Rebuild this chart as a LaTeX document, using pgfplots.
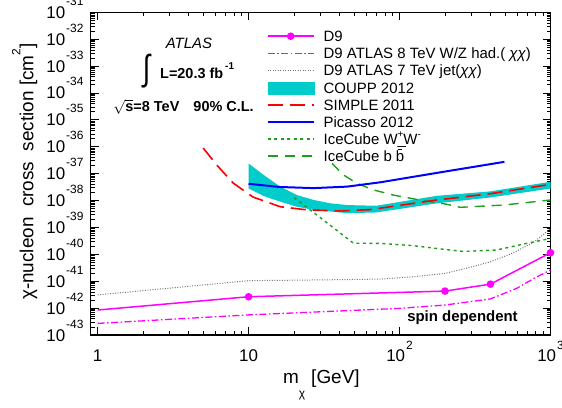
\documentclass[border=0pt]{standalone}
\usepackage{fontspec}
\setmainfont{Liberation Sans}
\usepackage{pgfplots}
\pgfplotsset{compat=1.18}
\definecolor{mag}{RGB}{255,0,255}
\definecolor{bandc}{RGB}{0,204,204}
\definecolor{grn}{RGB}{30,160,30}
\definecolor{dgray}{RGB}{120,120,120}
\newcommand{\tp}[1]{10\hspace{1bp}\raisebox{13bp}{\fontsize{12}{12}\selectfont #1}}
\newcommand{\xp}[1]{10\hspace{1bp}\raisebox{12bp}{\fontsize{12}{12}\selectfont #1}}
\newcommand{\chichi}{{\itshape χχ}}
\begin{document}%
\sbox0{\fontsize{15}{17}\selectfont \chichi\ $\chi\overline{\mbox{b}}$ \={b} {\bfseries x} {\itshape A}}%
\begin{tikzpicture}
\useasboundingbox (-90.7bp,-73bp) rectangle (471.3bp,335bp);
\begin{scope}[shift={(-90.7bp,335bp)}, x=1bp, y=-1bp]
\node[anchor=base, inner sep=0pt, font=\itshape\fontsize{15}{15}\selectfont] at (189,48.3) {ATLAS};
\node[anchor=center, inner sep=0pt] at (146.5,71.5) {\scalebox{0.75}[1]{\fontsize{36}{36}\selectfont ∫}};
\node[anchor=base west, inner sep=0pt, font=\bfseries\fontsize{14.5}{14.5}\selectfont] at (160,78.3) {L=20.3 fb\hspace{2bp}\raisebox{9bp}{\fontsize{10}{10}\selectfont -1}};
\node[anchor=base west, inner sep=0pt, font=\bfseries\fontsize{14.5}{14.5}\selectfont] at (113.3,111.7) {$\sqrt{\hbox{s}}$=8 TeV};
\node[anchor=base west, inner sep=0pt, font=\bfseries\fontsize{14.5}{14.5}\selectfont] at (193.3,111.7) {90\% C.L.};
\node[anchor=base, inner sep=0pt, font=\bfseries\fontsize{15}{15}\selectfont] at (462.5,322) {spin dependent};
\node[anchor=base west, inner sep=0pt, font=\fontsize{19}{19}\selectfont] at (283,384) {m\raisebox{-13.7bp}{\fontsize{12}{12}\selectfont χ}\hspace{6bp}[GeV]};
\node[rotate=90, anchor=base, inner sep=0pt, font=\fontsize{19}{19}\selectfont] at (33.3,171.7) {χ-nucleon\ \ cross\ \ section [cm\raisebox{13bp}{\fontsize{12}{12}\selectfont 2}]};
\end{scope}
\begin{axis}[
  at={(0,0)}, anchor=south west,
  scale only axis, width=459.8bp, height=322.7bp,
  xmode=log, ymode=log,
  xmin=0.9, xmax=1000, ymin=1e-43, ymax=1e-31,
  xtick={1,10,100,1000},
  xticklabels={1,10,\xp{2},\xp{3}},
  minor xtick={2,3,4,5,6,7,8,9,20,30,40,50,60,70,80,90,200,300,400,500,600,700,800,900},
  ytick={1e-43,1e-42,1e-41,1e-40,1e-39,1e-38,1e-37,1e-36,1e-35,1e-34,1e-33,1e-32,1e-31},
  yticklabels={\tp{-43},\tp{-42},\tp{-41},\tp{-40},\tp{-39},\tp{-38},\tp{-37},\tp{-36},\tp{-35},\tp{-34},\tp{-33},\tp{-32},\tp{-31}},
  minor ytick={2e-43,3e-43,4e-43,5e-43,6e-43,7e-43,8e-43,9e-43,
    2e-42,3e-42,4e-42,5e-42,6e-42,7e-42,8e-42,9e-42,
    2e-41,3e-41,4e-41,5e-41,6e-41,7e-41,8e-41,9e-41,
    2e-40,3e-40,4e-40,5e-40,6e-40,7e-40,8e-40,9e-40,
    2e-39,3e-39,4e-39,5e-39,6e-39,7e-39,8e-39,9e-39,
    2e-38,3e-38,4e-38,5e-38,6e-38,7e-38,8e-38,9e-38,
    2e-37,3e-37,4e-37,5e-37,6e-37,7e-37,8e-37,9e-37,
    2e-36,3e-36,4e-36,5e-36,6e-36,7e-36,8e-36,9e-36,
    2e-35,3e-35,4e-35,5e-35,6e-35,7e-35,8e-35,9e-35,
    2e-34,3e-34,4e-34,5e-34,6e-34,7e-34,8e-34,9e-34,
    2e-33,3e-33,4e-33,5e-33,6e-33,7e-33,8e-33,9e-33,
    2e-32,3e-32,4e-32,5e-32,6e-32,7e-32,8e-32,9e-32},
  major tick length=8bp, minor tick length=4bp,
  axis line style={line width=1.2bp},
  tick style={line width=0.8bp, black},
  tick label style={font=\fontsize{17}{17}\selectfont, inner sep=0pt},
  xticklabel style={anchor=base, yshift=-26.7bp},
  yticklabel style={anchor=base east, xshift=-7bp, yshift=-6bp},
  legend cell align=left,
  legend style={at={(0.3828,0.943)}, anchor=north west, draw=none, fill=none,
    inner sep=0pt, outer sep=0pt, row sep=0pt, column sep=9bp,
    font=\fontsize{15}{17}\selectfont,
    nodes={inner sep=0pt, text height=11bp, text depth=6bp}},
  legend image code/.code={\draw[#1] (0bp,3bp) -- (46bp,3bp);},
]
% ---- legend images (in legend order) ----
\addlegendimage{color=mag, line width=1.5bp, legend image code/.code={\draw[color=mag, line width=1.5bp] (0bp,3bp) -- (46bp,3bp); \fill[color=mag] (23bp,3bp) circle (3bp);}}
\addlegendentry{D9}
\addlegendimage{color=mag, line width=1.3bp, dash pattern=on 7bp off 2.5bp on 1.5bp off 2.5bp}
\addlegendentry{D9 ATLAS 8 TeV W/Z had.( \chichi)}
\addlegendimage{color=dgray, line width=1bp, dash pattern=on 1bp off 1.5bp}
\addlegendentry{D9 ATLAS 7 TeV jet(\chichi)}
\addlegendimage{color=bandc, legend image code/.code={\fill[color=bandc] (0bp,-3bp) rectangle (46bp,9bp);}}
\addlegendentry{COUPP 2012}
\addlegendimage{color=red, line width=1.6bp, dash pattern=on 15bp off 7bp}
\addlegendentry{SIMPLE 2011}
\addlegendimage{color=blue, line width=2bp}
\addlegendentry{Picasso 2012}
\addlegendimage{color=grn, line width=1.4bp, dash pattern=on 3bp off 3.5bp}
\addlegendentry{IceCube W\rlap{\_}\raisebox{7bp}{\fontsize{10}{10}\selectfont +}W\raisebox{7bp}{\fontsize{10}{10}\selectfont -}}
\addlegendimage{color=grn, line width=1.4bp, dash pattern=on 10bp off 7bp}
\addlegendentry{IceCube b \={b}}
% ---- data ----
% COUPP band
\addplot[forget plot, draw=none, fill=bandc]
  coordinates {(10,2.4e-37)(12.6,8.9e-38)(16.2,3.3e-38)(20.9,1.6e-38)(27,1.05e-38)(34.8,7.9e-39)(45,6.8e-39)(70,6.4e-39)(177,1.5e-38)(400,2.2e-38)(1000,5e-38)
   (1000,2.8e-38)(400,1.3e-38)(177,7.9e-39)(70,3.6e-39)(45,3.4e-39)(27,4.5e-39)(20.9,5.9e-39)(16.2,9.1e-39)(12.6,1.47e-38)(10,2.8e-38)} --cycle;
% D9
\addplot[forget plot, color=mag, line width=1.5bp, mark=*, mark size=3bp, mark options={solid, fill=mag}, mark indices={2,3,4,5}]
  coordinates {(1,8.5e-43)(10,2.65e-42)(200,4.3e-42)(400,7.8e-42)(1000,1.15e-40)};
% D9 ATLAS 8 TeV W/Z
\addplot[forget plot, color=mag, line width=1.3bp, dash pattern=on 7bp off 2.5bp on 1.5bp off 2.5bp]
  coordinates {(1,2.7e-43)(10,5.6e-43)(100,9.8e-43)(200,1.3e-42)(400,2.2e-42)(600,5.5e-42)(800,1.4e-41)(1000,2.6e-41)};
% D9 ATLAS 7 TeV jet
\addplot[forget plot, color=dgray, line width=1bp, dash pattern=on 1bp off 1.5bp]
  coordinates {(1,3.1e-42)(10,1.05e-41)(30,1.12e-41)(75,1.2e-41)(120,1.45e-41)(200,1.95e-41)(300,3.4e-41)(400,5.3e-41)(560,1.1e-40)(780,2.9e-40)(1000,9e-40)};
% IceCube WW
\addplot[forget plot, color=grn, line width=1.4bp, dash pattern=on 3bp off 3.5bp]
  coordinates {(20,1.3e-38)(49.5,2.6e-40)(75,2.55e-40)(123,2.1e-40)(204,1.5e-40)(265,1.28e-40)(440,1.45e-40)(660,2.4e-40)(1000,3.9e-40)};
% IceCube bb
\addplot[forget plot, color=grn, line width=1.4bp, dash pattern=on 10bp off 7bp]
  coordinates {(35.7,2.4e-37)(42.6,8.9e-38)(52,4.4e-38)(67,2.5e-38)(91,1.6e-38)(130,1.1e-38)(200,7.5e-39)(252,5.6e-39)(488,6.8e-39)(1000,1.05e-38)};
% SIMPLE
\addplot[forget plot, color=red, line width=1.6bp, dash pattern=on 15bp off 7bp]
  coordinates {(5,9e-37)(6.2,2e-37)(7.9,4.5e-38)(10.7,1.35e-38)(16.2,5.9e-39)(24.4,4.5e-39)(40,4.1e-39)(64,4.6e-39)(177,1.05e-38)(400,1.8e-38)(1000,4e-38)};
% Picasso
\addplot[forget plot, color=blue, line width=2bp]
  coordinates {(10,4.2e-38)(16,3.2e-38)(27,2.9e-38)(45,3.3e-38)(75,4.8e-38)(177,1.07e-37)(495,2.75e-37)};
\end{axis}
\end{tikzpicture}%
\end{document}
